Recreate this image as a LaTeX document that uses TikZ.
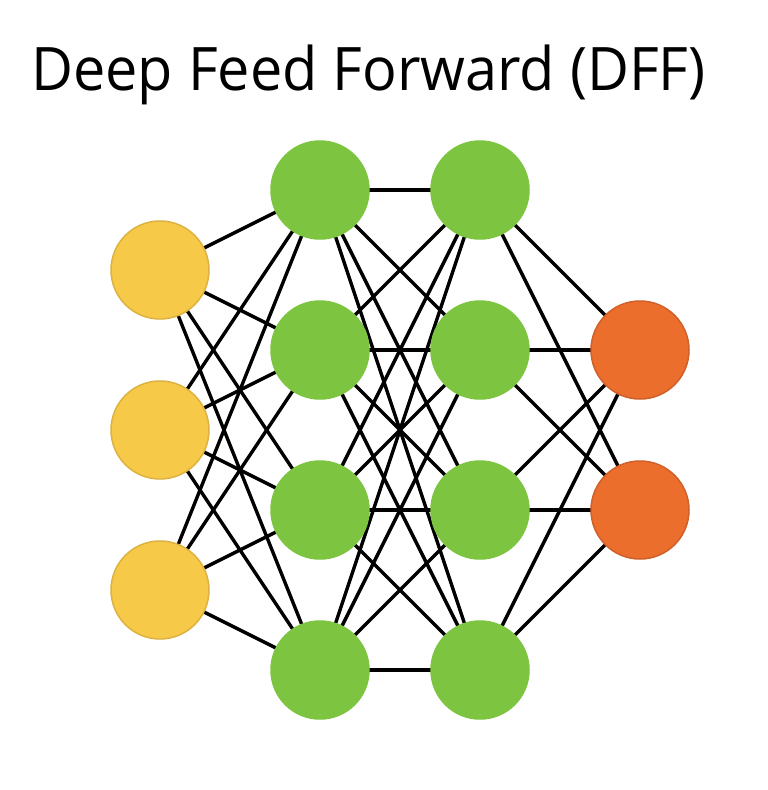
\documentclass[tikz,border=0pt]{standalone}
\usepackage{fontspec}
\setmainfont{Open Sans}
\usetikzlibrary{backgrounds}
\definecolor{inyel}{HTML}{F7C948}
\definecolor{inyelb}{HTML}{DDB240}
\definecolor{hidgr}{HTML}{7DC540}
\definecolor{outor}{HTML}{EC6E2D}
\definecolor{outorb}{HTML}{D0602A}
\begin{document}
\begin{tikzpicture}[x=1pt,y=-1pt,
  neuron/.style={circle,minimum size=98pt,inner sep=0pt,line width=1.5pt},
  inp/.style={neuron,fill=inyel,draw=inyelb},
  hid/.style={neuron,fill=hidgr,draw=hidgr},
  outp/.style={neuron,fill=outor,draw=outorb},
  conn/.style={line width=3.4pt,black}]
\useasboundingbox (0,0) rectangle (768,790);
\node[anchor=base west,inner sep=0pt,xscale=0.96,font=\fontsize{60}{72}\selectfont] (title) at (31,90) {Deep Feed Forward (DFF)};
\foreach \i/\y in {1/270,2/430,3/590} \node[inp] (i\i) at (160,\y) {};
\foreach \i/\y in {1/190,2/350,3/510,4/670} \node[hid] (a\i) at (320,\y) {};
\foreach \i/\y in {1/190,2/350,3/510,4/670} \node[hid] (b\i) at (480,\y) {};
\foreach \i/\y in {1/350,2/510} \node[outp] (o\i) at (640,\y) {};
\begin{scope}[on background layer]
\fill[white] (0,0) rectangle (768,790);
\foreach \s in {1,2,3} \foreach \t in {1,2,3,4} \draw[conn] (i\s.center) -- (a\t.center);
\foreach \s in {1,2,3,4} \foreach \t in {1,2,3,4} \draw[conn] (a\s.center) -- (b\t.center);
\foreach \s in {1,2,3,4} \foreach \t in {1,2} \draw[conn] (b\s.center) -- (o\t.center);
\end{scope}
\end{tikzpicture}
\end{document}
